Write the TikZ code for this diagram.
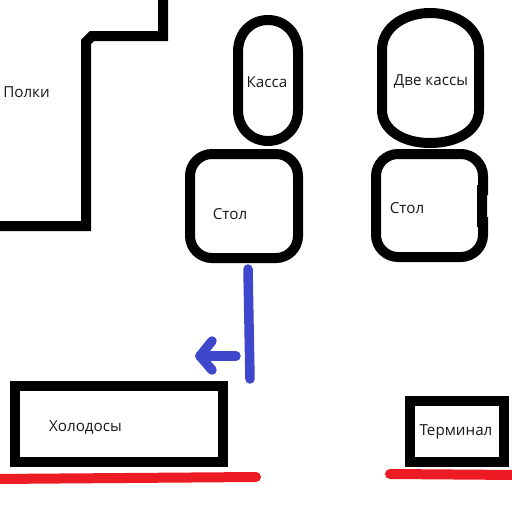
\documentclass[tikz,border=0pt]{standalone}
\usepackage{fontspec}
\setmainfont{Open Sans}
\definecolor{bluemark}{HTML}{3F48CC}
\definecolor{redmark}{HTML}{ED1C24}
\tikzset{
  x=1pt,y=-1pt,
  wall/.style={draw=black,line width=10pt,line join=miter},
  bluepen/.style={draw=bluemark,line width=9.5pt,line cap=round,line join=round},
  redpen/.style={draw=redmark,line width=10pt,line cap=round},
  lbl/.style={font=\fontsize{15.2}{18}\selectfont,text=black!90,inner sep=0pt},
}
\begin{document}
\begin{tikzpicture}
\useasboundingbox (0,0) rectangle (512,512);
\fill[white] (0,0) rectangle (512,512);
% shelves wall
\coordinate (w0) at (-6,226);
\coordinate (w1) at (86,226);
\coordinate (w2) at (86,42);
\coordinate (w3) at (92,36);
\coordinate (w4) at (163,36);
\coordinate (w5) at (163,-6);
\draw[wall] (w0) -- (w1) -- (w2) -- (w3) -- (w4) -- (w5);
% Kassa
\draw[wall] (238,52) .. controls (238,33) and (251,20) .. (268,20) .. controls (285,20) and (298,33) .. (298,52)
  -- (298,110) .. controls (298,128) and (285,141) .. (268,141) .. controls (251,141) and (238,128) .. (238,110) -- cycle;
% Two kassas
\draw[wall] (382,50) .. controls (382,27) and (405,13) .. (430,13) .. controls (456,13) and (479,27) .. (479,50)
  -- (479,110) .. controls (479,130) and (458,143) .. (430,143) .. controls (403,143) and (382,130) .. (382,110) -- cycle;
% Tables
\draw[wall,rounded corners=22pt] (190,154) rectangle (298,258);
\draw[wall] (483,190) -- (483,176) .. controls (483,164) and (473,154) .. (461,154) -- (398,154)
  .. controls (386,154) and (376,164) .. (376,176) -- (376,235)
  .. controls (376,247) and (386,257) .. (398,257) -- (461,257)
  .. controls (473,257) and (483,247) .. (483,235) -- (483,222) -- (482,222) -- (482,190) -- cycle;
% Fridges, terminal
\draw[wall] (15,386) rectangle (223,462);
\draw[wall] (410,401) rectangle (504,462);
% Blue marks
\coordinate (b0) at (248,269);
\coordinate (b1) at (250,379);
\draw[bluepen] (b0) -- (b1);
\coordinate (a0) at (236,356);
\coordinate (a1) at (200,356);
\coordinate (a2) at (212,341);
\coordinate (a3) at (212,370);
\draw[bluepen] (a0) -- (a1);
\draw[bluepen] (a2) -- (a1) -- (a3);
% Red marks
\coordinate (r0) at (-6,479);
\coordinate (r1) at (256,477);
\draw[redpen] (r0) -- (r1);
\coordinate (r2) at (390,474);
\coordinate (r3) at (518,475);
\draw[redpen] (r2) -- (r3);
% Labels
\node[lbl] (polki) at (26.5,92) {Полки};
\node[lbl] (kassa) at (267,82) {Касса};
\node[lbl] (dve) at (431,81) {Две кассы};
\node[lbl] (stol1) at (230,214) {Стол};
\node[lbl] (stol2) at (407,208) {Стол};
\node[lbl] (hol) at (85.5,427) {Холодосы};
\node[lbl] (term) at (456,432) {Терминал};
\end{tikzpicture}
\end{document}
